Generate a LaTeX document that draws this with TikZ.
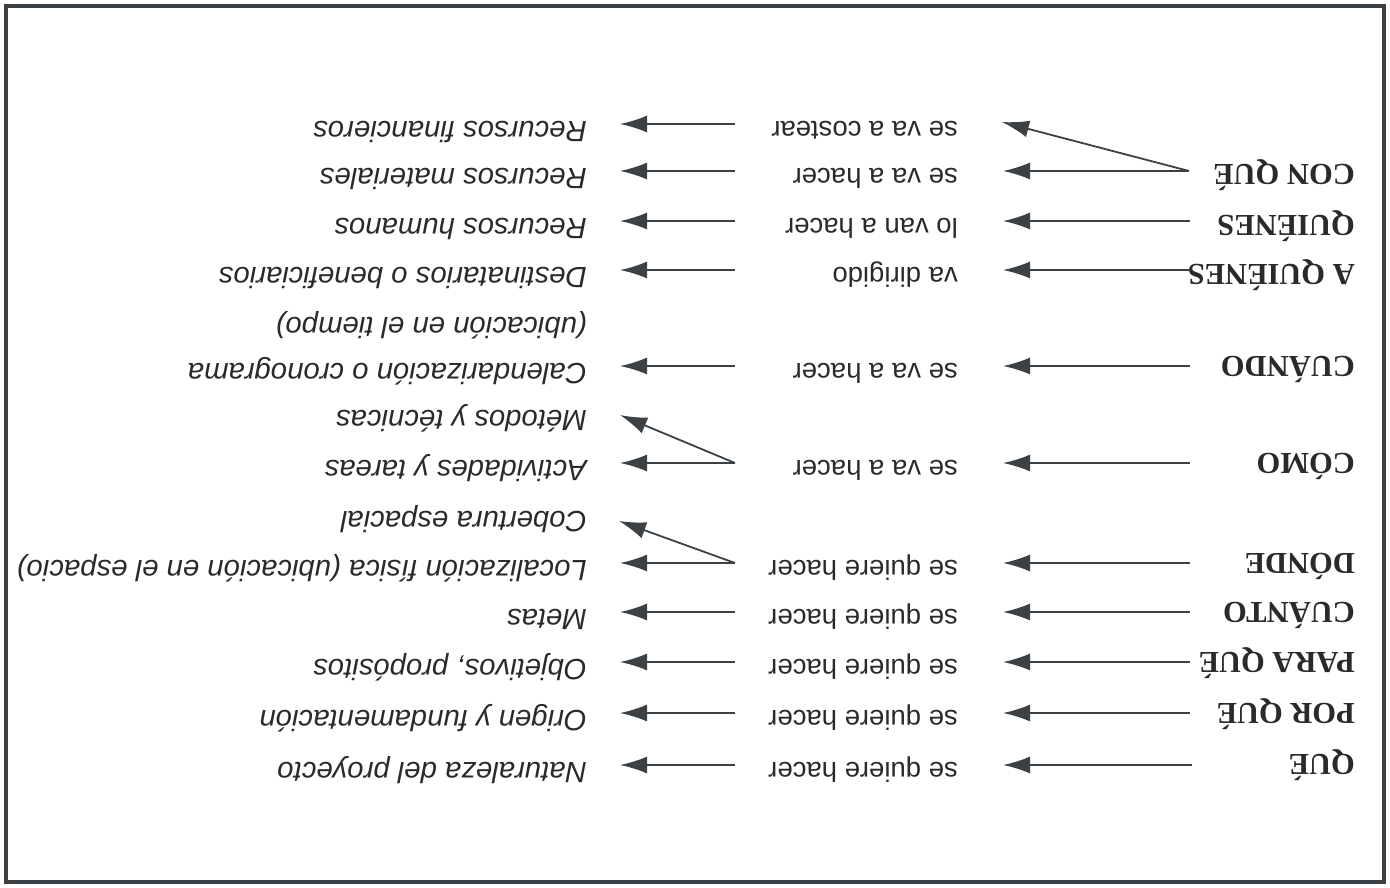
\documentclass[tikz,border=0pt]{standalone}
\usepackage{fontspec}
\setmainfont{Liberation Serif}
\setsansfont{Liberation Sans}
\usetikzlibrary{arrows.meta}
\definecolor{ink}{HTML}{2A2A2A}
\definecolor{lin}{HTML}{3C4145}
\begin{document}
\begin{tikzpicture}[x=1pt,y=-1pt,
  lab/.style={rotate=180,anchor=base west,inner sep=0pt,text=ink,font=\fontsize{30.5}{34}\selectfont\bfseries},
  midtxt/.style={rotate=180,anchor=mid west,inner sep=0pt,text=ink,font=\sffamily\fontsize{27.5}{32}\selectfont},
  res/.style={rotate=180,anchor=mid west,inner sep=0pt,text=ink,font=\sffamily\itshape\fontsize{29.3}{33}\selectfont},
  arr/.style={draw=lin,line width=1.8pt,-{Latex[length=27pt,width=17pt]}},
  arrA/.style={arr,shorten >=45pt},
  arrB/.style={arr,shorten >=33pt},
]
\useasboundingbox (0,0) rectangle (1390,887);
\draw[draw=lin,line width=4pt] (5.5,5.5) rectangle (1384,882);

% labels
\node[lab] (L2) at (1355,164) {CON QUÉ};
\node[lab] (L3) at (1355,215) {QUIÉNES};
\node[lab] (L4) at (1355,264) {A QUIÉNES};
\node[lab] (L5) at (1355,356) {CUÁNDO};
\node[lab] (L6) at (1355,453) {CÓMO};
\node[lab] (L7) at (1355,553) {DÓNDE};
\node[lab] (L8) at (1355,602) {CUÁNTO};
\node[lab] (L9) at (1355,652) {PARA QUÉ};
\node[lab] (L10) at (1355,703) {POR QUÉ};
\node[lab] (L11) at (1355,754) {QUÉ};

% middle column
\node[midtxt] (M1) at (958,124) {se va a costear};
\node[midtxt] (M2) at (958,171) {se va a hacer};
\node[midtxt] (M3) at (958,221) {lo van a hacer};
\node[midtxt] (M4) at (958,270) {va dirigido};
\node[midtxt] (M5) at (958,366) {se va a hacer};
\node[midtxt] (M6) at (958,463) {se va a hacer};
\node[midtxt] (M7) at (958,563) {se quiere hacer};
\node[midtxt] (M8) at (958,612) {se quiere hacer};
\node[midtxt] (M9) at (958,662) {se quiere hacer};
\node[midtxt] (M10) at (958,713) {se quiere hacer};
\node[midtxt] (M11) at (958,765) {se quiere hacer};

% right column
\node[res] (R1) at (587,124) {Recursos financieros};
\node[res] (R2) at (587,171) {Recursos materiales};
\node[res] (R3) at (587,221) {Recursos humanos};
\node[res] (R4) at (587,270) {Destinatarios o beneficiarios};
\node[res] (R5b) at (587,320) {(ubicación en el tiempo)};
\node[res] (R5) at (587,366) {Calendarización o cronograma};
\node[res] (R6a) at (587,413) {Métodos y técnicas};
\node[res] (R6) at (587,463) {Actividades y tareas};
\node[res] (R7a) at (587,514) {Cobertura espacial};
\node[res] (R7) at (587,563) {Localización física (ubicación en el espacio)};
\node[res] (R8) at (587,612) {Metas};
\node[res] (R9) at (587,662) {Objetivos, propósitos};
\node[res] (R10) at (587,713) {Origen y fundamentación};
\node[res] (R11) at (587,765) {Naturaleza del proyecto};

% start points of the arrows
\coordinate (A2) at (1189,171);
\coordinate (A3) at (1190,221);
\coordinate (A4) at (1190,270);
\coordinate (A5) at (1190,366);
\coordinate (A6) at (1190,463);
\coordinate (A7) at (1190,563);
\coordinate (A8) at (1190,612);
\coordinate (A9) at (1190,662);
\coordinate (A10) at (1190,713);
\coordinate (A11) at (1192,765);
\coordinate (T1) at (1002,122);

\coordinate (B1) at (735,124);
\coordinate (B2) at (735,171);
\coordinate (B3) at (735,221);
\coordinate (B4) at (735,270);
\coordinate (B5) at (735,366);
\coordinate (B6) at (735,463);
\coordinate (B7) at (735,563);
\coordinate (B8) at (735,612);
\coordinate (B9) at (735,662);
\coordinate (B10) at (735,713);
\coordinate (B11) at (735,765);
\coordinate (T6) at (620,415);
\coordinate (T7) at (619,521);

% first column of arrows
\draw[arr] (A2) -- (T1);
\draw[arrA] (A2) -- (M2.mid west);
\draw[arrA] (A3) -- (M3.mid west);
\draw[arrA] (A4) -- (M4.mid west);
\draw[arrA] (A5) -- (M5.mid west);
\draw[arrA] (A6) -- (M6.mid west);
\draw[arrA] (A7) -- (M7.mid west);
\draw[arrA] (A8) -- (M8.mid west);
\draw[arrA] (A9) -- (M9.mid west);
\draw[arrA] (A10) -- (M10.mid west);
\draw[arrA] (A11) -- (M11.mid west);

% second column of arrows
\draw[arrB] (B1) -- (R1.mid west);
\draw[arrB] (B2) -- (R2.mid west);
\draw[arrB] (B3) -- (R3.mid west);
\draw[arrB] (B4) -- (R4.mid west);
\draw[arrB] (B5) -- (R5.mid west);
\draw[arrB] (B6) -- (R6.mid west);
\draw[arr] (B6) -- (T6);
\draw[arrB] (B7) -- (R7.mid west);
\draw[arr] (B7) -- (T7);
\draw[arrB] (B8) -- (R8.mid west);
\draw[arrB] (B9) -- (R9.mid west);
\draw[arrB] (B10) -- (R10.mid west);
\draw[arrB] (B11) -- (R11.mid west);
\end{tikzpicture}
\end{document}
